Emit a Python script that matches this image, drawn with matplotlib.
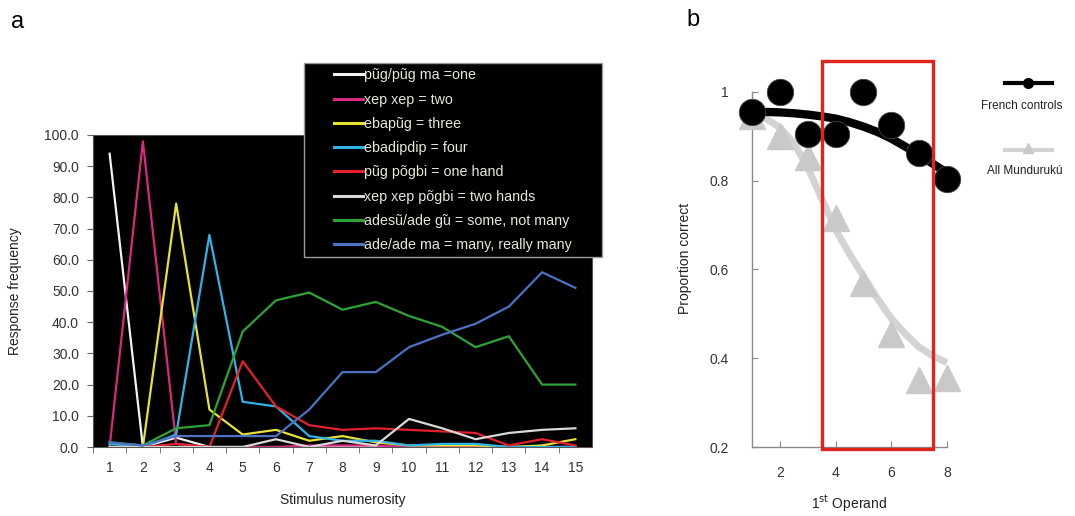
import matplotlib
matplotlib.use("Agg")
import matplotlib.pyplot as plt
from matplotlib.lines import Line2D
from matplotlib.patches import Rectangle

plt.rcParams['font.family'] = ['Liberation Sans', 'DejaVu Sans']

# ---- Panel a: naming responses by numerosity ----
numerosity = list(range(1, 16))
word_labels = [
    "pũg/pũg ma =one",
    "xep xep = two",
    "ebapũg = three",
    "ebadipdip = four",
    "pũg põgbi = one hand",
    "xep xep põgbi = two hands",
    "adesũ/ade g\u0303u = some, not many",
    "ade/ade ma = many, really many",
]
one_resp = [94, 0, 3, 0, 0, 0, 0, 0, 0, 0, 0, 0, 0, 0, 0]
two_resp = [0, 98, 1, 0, 0, 0, 0.5, 0.5, 0.5, 0, 0, 0, 0, 0, 0]
three_resp = [0, 0, 78, 12, 4, 5.5, 2, 3.5, 1.5, 0.5, 0.5, 0.5, 0, 0.5, 2.5]
four_resp = [1, 0, 4, 68, 14.5, 13, 3.5, 2, 2, 0.5, 1, 1, 0, 0, 0]
one_hand_resp = [0, 0, 1, 0, 27.5, 13, 7, 5.5, 6, 5.5, 5, 4.5, 0.5, 2.5, 0.5]
two_hands_resp = [0, 0, 0, 0, 0, 2.5, 0, 2, 0.5, 9, 6, 2.5, 4.5, 5.5, 6]
some_resp = [1.5, 0.5, 6, 7, 37, 47, 49.5, 44, 46.5, 42, 38.5, 32, 35.5, 20, 20]
many_resp = [1.5, 0.5, 3.5, 3.5, 3.5, 3.5, 12, 24, 24, 32, 36, 39.5, 45, 56, 51]
series_a = [one_resp, two_resp, three_resp, four_resp,
            one_hand_resp, two_hands_resp, some_resp, many_resp]
colors_a = ["#f2f2f2", "#d8287f", "#e6e233", "#2fb4e6",
            "#e3202b", "#d9d9d9", "#2ea336", "#4c72c4"]
yticks_a = [0, 10, 20, 30, 40, 50, 60, 70, 80, 90, 100]

# ---- Panel b: proportion correct by first operand ----
operand = [1, 2, 3, 4, 5, 6, 7, 8]
french = [0.955, 1.0, 0.905, 0.905, 1.0, 0.925, 0.862, 0.805]
munduruku = [0.945, 0.90, 0.853, 0.715, 0.57, 0.455, 0.352, 0.355]
fit_x = [1, 1.5, 2, 2.5, 3, 3.5, 4, 4.5, 5, 5.5, 6, 6.5, 7, 7.5, 8]
french_fit = [0.955, 0.955, 0.954, 0.952, 0.949, 0.945, 0.94, 0.932,
              0.922, 0.91, 0.895, 0.877, 0.858, 0.838, 0.818]
munduruku_fit = [0.95, 0.94, 0.92, 0.885, 0.83, 0.76, 0.69, 0.635,
                 0.585, 0.535, 0.49, 0.455, 0.425, 0.405, 0.39]
highlight = (3.5, 7.5)

W, H = 1075, 516
fig = plt.figure(figsize=(W / 100, H / 100), dpi=100)

ax = fig.add_axes([0.0865, 0.1337, 0.4642, 0.6047])
ax.set_facecolor("black")
for vals, col, lab in zip(series_a, colors_a, word_labels):
    ax.plot(numerosity, vals, color=col, lw=1.6, label=lab)
ax.set_xlim(0.5, 15.5)
ax.set_ylim(0, 100)
ax.set_yticks(yticks_a)
ax.set_yticklabels([f"{v:.1f}" for v in yticks_a])
ax.set_xticks(numerosity)
ax.set_xticks([k + 0.5 for k in range(0, 15)], minor=True)
ax.tick_params(axis="x", which="major", length=0, pad=10, labelsize=10, labelcolor="#333333")
ax.tick_params(axis="x", which="minor", length=4, color="#666666", direction="out")
ax.tick_params(axis="y", length=4, color="#666666", direction="out", pad=6,
               labelsize=10, labelcolor="#333333")
for s in ax.spines.values():
    s.set_color("#555555")
ax.set_xlabel("Stimulus numerosity", fontsize=10, color="#222222", labelpad=13)
ax.set_ylabel("Response frequency", fontsize=10, color="#222222", labelpad=16)

# legend box: black panel overlapping the top of the plot
box = Rectangle((304 / W, 1 - 257 / H), 298 / W, 194 / H, transform=fig.transFigure,
                facecolor="black", edgecolor="#9a9a9a", lw=1.0, clip_on=False, zorder=10)
ax.add_artist(box)
leg = ax.legend(loc="upper left", bbox_to_anchor=(330 / W, 1 - 64 / H),
                bbox_transform=fig.transFigure, frameon=False, fontsize=10.3,
                labelspacing=0.72, handlelength=2.0, handletextpad=0.1,
                borderpad=0.3, borderaxespad=0, labelcolor="#e8e6d8")
leg.set_zorder(11)
for h in leg.get_lines():
    h.set_linewidth(2.2)

fig.text(18 / W, 1 - 22 / H, "a", fontsize=17, ha="center", va="center")

# ---- Panel b ----
bx = fig.add_axes([0.6892, 0.0907, 0.2020, 0.8171])
bx.set_xlim(0.6, 8.4)
bx.set_ylim(0.15, 1.1)
bx.plot(fit_x, munduruku_fit, color="#d3d3d3", lw=5, solid_capstyle="butt", zorder=2)
bx.plot(operand, munduruku, ls="none", marker="^", ms=19, color="#c9c9c9",
        mec="#c9c9c9", zorder=3, clip_on=False)
bx.plot(fit_x, french_fit, color="black", lw=6, solid_capstyle="butt", zorder=4)
bx.plot(operand, french, ls="none", marker="o", ms=19, color="black",
        mec="#444444", mew=0.6, zorder=5, clip_on=False)
bx.add_patch(Rectangle((highlight[0], 0.195), highlight[1] - highlight[0], 0.875,
                       fill=False, edgecolor="#e3241c", lw=2.4, zorder=6, clip_on=False))
for side in ("top", "right"):
    bx.spines[side].set_visible(False)
bx.spines["left"].set_bounds(0.2, 1.0)
bx.spines["bottom"].set_bounds(1, 8)
bx.spines["left"].set_position(("data", 1))
bx.spines["bottom"].set_position(("data", 0.2))
for side in ("left", "bottom"):
    bx.spines[side].set_color("#8a8a8a")
    bx.spines[side].set_linewidth(1.0)
bx.set_yticks([0.2, 0.4, 0.6, 0.8, 1.0])
bx.set_yticklabels(["0.2", "0.4", "0.6", "0.8", "1"])
bx.set_xticks([2, 4, 6, 8])
bx.tick_params(axis="both", direction="in", length=4, color="#8a8a8a",
               labelsize=10, labelcolor="#333333")
bx.tick_params(axis="y", pad=17)
bx.tick_params(axis="x", pad=14)
bx.set_ylabel("Proportion correct", fontsize=10, color="#222222", labelpad=12)
bx.set_xlabel("1$^{\\mathrm{st}}$ Operand", fontsize=10, color="#222222", labelpad=9)

# legend for panel b
fig.add_artist(Line2D([1005 / W, 1052 / W], [1 - 83 / H] * 2, color="black",
                      lw=3, transform=fig.transFigure))
fig.add_artist(Line2D([1028 / W], [1 - 83 / H], color="black", ls="none",
                      marker="o", ms=7, transform=fig.transFigure))
fig.text(1022 / W, 1 - 106 / H, "French controls", fontsize=8.5,
         ha="center", va="center", color="#222222")
fig.add_artist(Line2D([1005 / W, 1052 / W], [1 - 150 / H] * 2, color="#d3d3d3",
                      lw=3, transform=fig.transFigure))
fig.add_artist(Line2D([1028 / W], [1 - 148 / H], color="#c9c9c9", ls="none",
                      marker="^", ms=7, transform=fig.transFigure))
fig.text(1025 / W, 1 - 171 / H, "All Mundurukú", fontsize=8.5,
         ha="center", va="center", color="#222222")

fig.text(693 / W, 1 - 20 / H, "b", fontsize=17, ha="center", va="center")

fig.savefig("out.png", dpi=100, facecolor="white")
